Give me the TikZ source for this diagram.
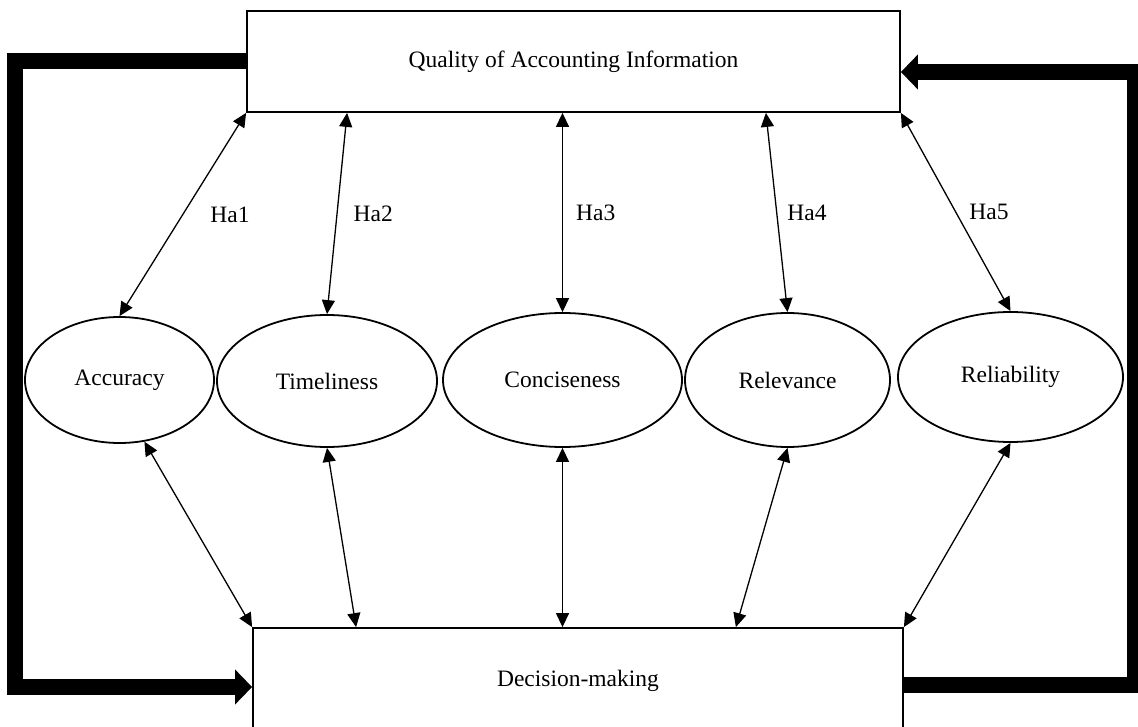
\documentclass[tikz,border=0pt]{standalone}
\usepackage{fontspec}
\setmainfont{Liberation Serif}
\usetikzlibrary{positioning,calc,shapes.geometric,arrows.meta}
\tikzset{
  attr/.style={draw, ellipse, line width=1.8pt, inner sep=0pt},
  block/.style={draw, rectangle, line width=1.8pt, inner sep=0pt},
  link/.style={{Triangle[length=14pt,width=13pt]}-{Triangle[length=14pt,width=13pt]}, line width=1.3pt},
  feedback/.style={-{Triangle[length=17pt,width=34pt]}, line width=16pt},
  hyp/.style={inner sep=0pt}
}
\newcommand{\anode}[5]{\node [attr, minimum width=#4, minimum height=#5] (#1) at (#2) {#3}}

\begin{document}
\begin{tikzpicture}[x=1pt, y=-1pt, font=\fontsize{23.5}{28}\selectfont]
\clip (0,0) rectangle (1138,727);

\node [block, minimum width=653pt, minimum height=101pt] (QAI) at (573.5,61.5) {Quality of Accounting Information};
\node [block, minimum width=650pt, minimum height=105pt] (DM) at (578,680.5) {Decision-making};

\anode{ACC}{119.5,380}{Accuracy}{189pt}{126pt};
\anode{TIM}{327,381}{Timeliness}{220pt}{132pt};
\anode{CON}{562.5,380}{Conciseness}{239pt}{134pt};
\anode{REL}{787.5,380}{Relevance}{205pt}{134pt};
\anode{RLB}{1010.5,377}{Reliability}{225pt}{130pt};

% feedback loops
\coordinate (LB) at (15,687);
\coordinate (RB) at (1135,685);
\coordinate (RT) at (1135,72);
\draw[feedback] (QAI.west) -| (LB) -- (LB -| DM.west);
\draw[feedback] (RB -| DM.east) -- (RB) -- (RT) -- (RT -| QAI.east);

% hypotheses
\draw[link] (QAI.south west) -- (ACC.north) node [hyp, midway, right=27pt] {Ha1};
\draw[link] ([xshift=101pt]QAI.south west) -- (TIM.north) node [hyp, midway, right=16pt] {Ha2};
\draw[link] (QAI.south -| CON.north) -- (CON.north) node [hyp, midway, right=13pt] {Ha3};
\draw[link] ([xshift=-135pt]QAI.south east) -- (REL.north) node [hyp, midway, right=10pt] {Ha4};
\draw[link] (QAI.south east) -- (RLB.north) node [hyp, midway, right=13pt] {Ha5};

\draw[link] (ACC.-68) -- (DM.north west);
\draw[link] (TIM.south) -- ([xshift=104pt]DM.north west);
\draw[link] (CON.south) -- (CON.south |- DM.north);
\draw[link] (REL.south) -- ([xshift=-168pt]DM.north east);
\draw[link] (RLB.south) -- (DM.north east);

\end{tikzpicture}
\end{document}
